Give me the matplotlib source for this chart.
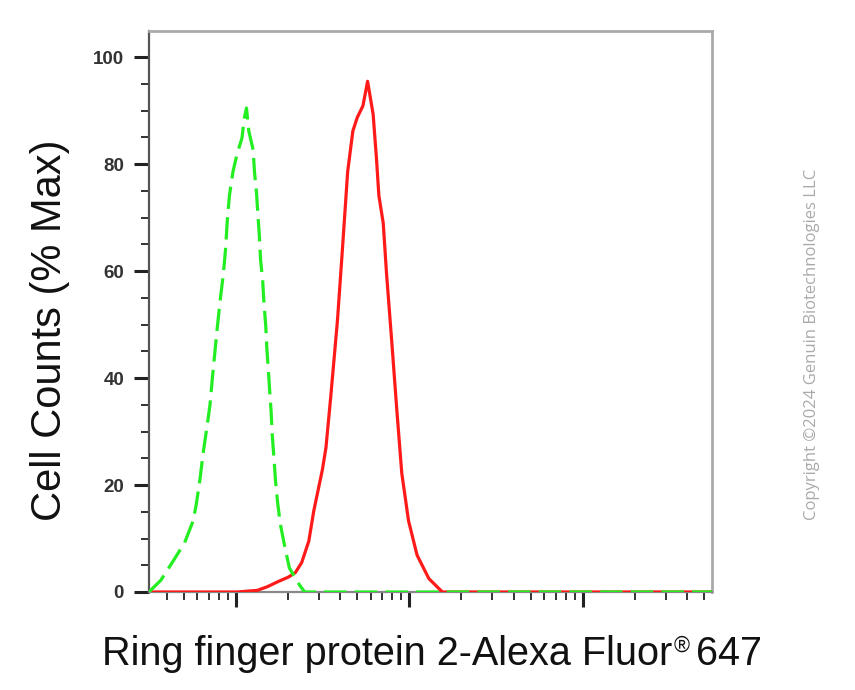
import numpy as np
import matplotlib
matplotlib.use("Agg")
from matplotlib import pyplot as plt
from matplotlib.ticker import LogLocator, MultipleLocator, NullFormatter

# control (isotype) histogram, dashed green
ctrl_x = [31.6, 37.0, 43.4, 50.7, 56.8, 59.3, 62.1, 64.9, 68.4, 71.0, 73.6, 75.9,
          78.3, 81.3, 84.9, 87.3, 89.5, 92.0, 96.4, 101.6, 108.6, 112.2, 115.3,
          118.9, 125.9, 128.2, 131.8, 134.3, 136.8, 139.0, 142.9, 145.5, 148.9,
          151.0, 154.2, 157.0, 160.0, 162.2, 166.0, 169.4, 174.2, 180.7, 190.5,
          203.7, 233.3, 249.5, 55590]
ctrl_y = [0, 2.2, 5.7, 9.2, 13.3, 16.5, 20.9, 26.0, 31.1, 34.9, 40.6, 45.0,
          49.5, 54.5, 59.6, 64.0, 69.7, 74.2, 78.6, 81.8, 84.9, 88.7, 90.5,
          86.2, 82.7, 78.6, 74.5, 70.4, 66.6, 62.1, 58.3, 53.9, 49.8,
          45.7, 41.5, 37.4, 33.6, 29.5, 25.1, 20.9, 16.8, 12.7, 8.9,
          4.5, 1.3, 0, 0]

# stained sample histogram, solid red
stain_x = [31.6, 101.6, 133.0, 152.4, 174.2, 201.4, 220.3, 239.9, 263.6, 281.8,
           315.5, 331.1, 353.2, 385.5, 413.0, 441.6, 473.2, 501.2, 540.8, 575.4,
           619.4, 647.1, 668.3, 707.9, 739.6, 792.5, 847.2, 905.7, 990.8, 1109.2,
           1297.2, 1552.4, 55590]
stain_y = [0, 0, 0.3, 1.0, 1.9, 2.8, 3.6, 5.5, 9.5, 15.2,
           22.8, 27.0, 36.7, 50.7, 64.6, 78.6, 86.2, 88.7, 90.9, 95.5,
           89.3, 81.1, 74.1, 69.0, 59.6, 46.9, 34.2, 22.2, 13.3, 6.9,
           2.5, 0, 0]

y_ticks = [0, 20, 40, 60, 80, 100]

plt.rcParams['font.family'] = ['Liberation Sans', 'DejaVu Sans']

W, H = 855, 690
fig = plt.figure(figsize=(W / 100, H / 100), dpi=100)
ax = fig.add_axes([149/W, 1-592/H, (712-149)/W, (592-31)/H])

ax.plot(stain_x, stain_y, color='#ff1a1a', lw=2.3, solid_joinstyle='round', zorder=3)
ax.plot(ctrl_x, ctrl_y, color='#22ee22', lw=2.3, dashes=(7, 2.6), zorder=4)

ax.set_xscale('log')
ax.set_xlim(10**1.5, 10**4.745)
ax.set_ylim(0, 104.9)

ax.xaxis.set_major_locator(LogLocator(base=10, numticks=10))
ax.xaxis.set_minor_locator(LogLocator(base=10, subs=np.arange(2, 10), numticks=20))
ax.xaxis.set_major_formatter(NullFormatter())
ax.xaxis.set_minor_formatter(NullFormatter())

ax.set_yticks(y_ticks)
ax.yaxis.set_minor_locator(MultipleLocator(5))

ax.tick_params(which='major', direction='out', length=11, width=2.2, color='#222222',
               labelsize=13.5, pad=7, labelcolor='#333333')
ax.tick_params(which='minor', direction='out', length=5.5, width=1.4, color='#333333')
for lab in ax.get_yticklabels():
    lab.set_fontweight('bold')

ax.spines['left'].set_color('#555555')
ax.spines['left'].set_linewidth(1.6)
ax.spines['bottom'].set_color('#888888')
ax.spines['bottom'].set_linewidth(1.6)
ax.spines['top'].set_color('#aaaaaa')
ax.spines['top'].set_linewidth(2)
ax.spines['right'].set_color('#aaaaaa')
ax.spines['right'].set_linewidth(2)

fig.text(50/W, 1-330/H, 'Cell Counts (% Max)', rotation=90, fontsize=30,
         ha='center', va='center', color='#111111')

# x label in pieces so the registered sign is small and raised
rend = fig.canvas.get_renderer()
base_y = 1 - 665/H
size = 28.5
t1 = fig.text(0, base_y, 'Ring finger protein 2-Alexa Fluor', fontsize=size,
              va='baseline', ha='left', color='#111111')
t2 = fig.text(0, base_y + 13/H, '\u00ae', fontsize=15.5, va='baseline', ha='left',
              color='#111111')
t3 = fig.text(0, base_y, '647', fontsize=size, va='baseline', ha='left', color='#111111')
w1 = t1.get_window_extent(rend).width
w2 = t2.get_window_extent(rend).width
w3 = t3.get_window_extent(rend).width
gap = 6
total = w1 + 1 + w2 + gap + w3
x0 = 432 - total / 2
t1.set_x(x0 / W)
t2.set_x((x0 + w1 + 1) / W)
t3.set_x((x0 + w1 + 1 + w2 + gap) / W)

fig.text(812/W, 1-344/H, 'Copyright \u00a92024 Genuin Biotechnologies LLC',
         rotation=90, fontsize=12, family=['Open Sans', 'DejaVu Sans'],
         ha='center', va='center', color='#aaaaaa')

fig.savefig('out.png', dpi=100)
